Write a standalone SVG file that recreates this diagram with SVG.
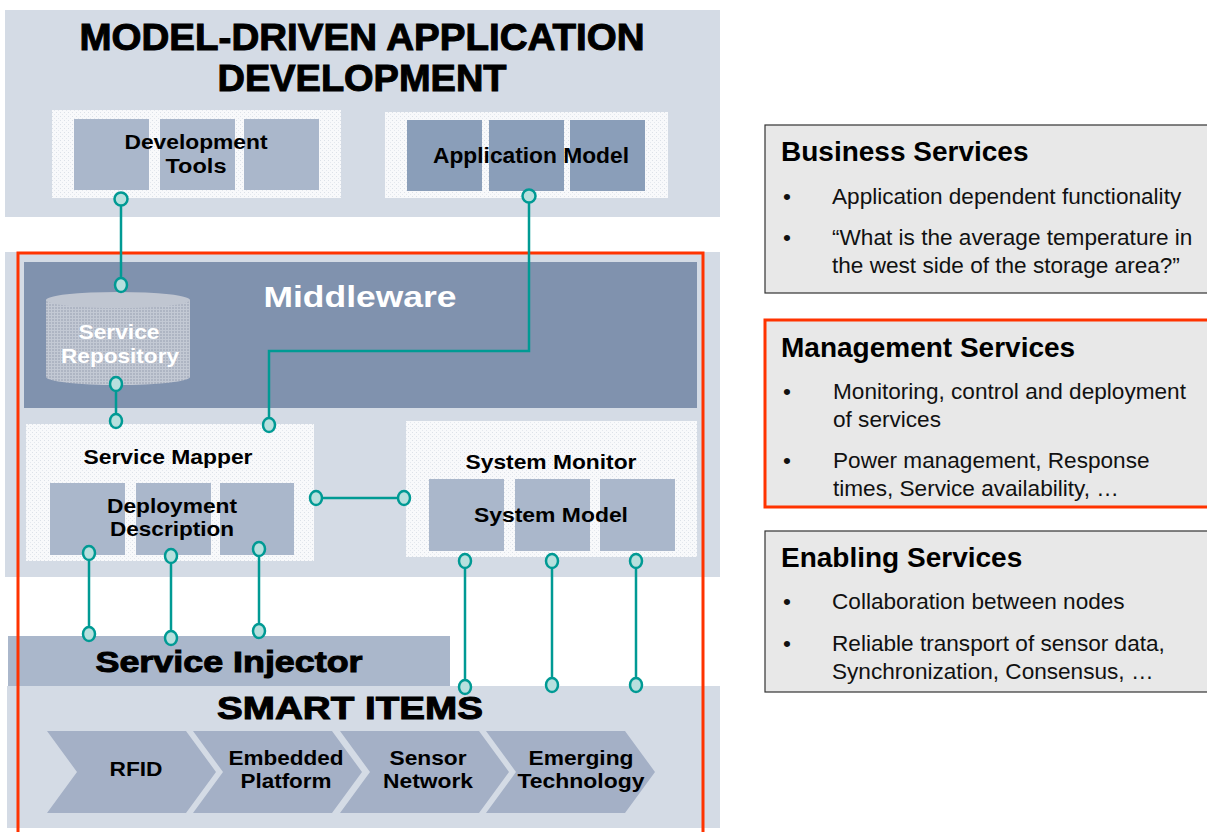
<svg xmlns="http://www.w3.org/2000/svg" width="1207" height="832" viewBox="0 0 1207 832">
<style>
.panel{fill:#d4dbe5}
.white{fill:url(#dots)}
.sq{fill:#aab7cb}
.sqd{fill:#8a9eb9}
.lbl{font-family:"Liberation Sans",Arial,sans-serif;font-weight:bold;fill:#000;text-anchor:middle}
.big{font-family:"Liberation Sans",Arial,sans-serif;font-weight:bold;fill:#000;text-anchor:middle;stroke:#000;stroke-width:1}
.wht{font-family:"Liberation Sans",Arial,sans-serif;font-weight:bold;fill:#fff;text-anchor:middle}
.con{stroke:#009a94;stroke-width:2.5;fill:none}
.pin{fill:#b8e0de;stroke:#009a94;stroke-width:2.5}
.chev{fill:#a4b0c6}
.box{fill:#e8e8e8;stroke:#333;stroke-width:1.2}
.ttl{font-family:"Liberation Sans",Arial,sans-serif;font-weight:bold;font-size:28px;fill:#000}
.txt{font-family:"Liberation Sans",Arial,sans-serif;font-size:22.6px;fill:#111}
</style>
<defs>
<pattern id="dots" width="4" height="4" patternUnits="userSpaceOnUse">
<rect width="4" height="4" fill="#f8f9fb"/><rect width="1" height="1" fill="#dce1e8"/><rect x="2" y="2" width="1" height="1" fill="#e4e8ee"/>
</pattern>
<pattern id="mesh" width="3" height="3" patternUnits="userSpaceOnUse">
<rect width="3" height="3" fill="#aeb5c3"/><rect width="1" height="3" fill="#c3c9d4"/><rect width="3" height="1" fill="#c3c9d4"/>
</pattern>
</defs>

<g id="mdad">
<rect class="panel" x="5" y="10" width="715" height="207"/>
<text class="big" x="362" y="50" font-size="37" stroke-width="1.3" textLength="565" lengthAdjust="spacingAndGlyphs">MODEL-DRIVEN APPLICATION</text>
<text class="big" x="362" y="91" font-size="37" stroke-width="1.3" textLength="289" lengthAdjust="spacingAndGlyphs">DEVELOPMENT</text>
</g>

<g id="devtools">
<rect class="white" x="52" y="110" width="289" height="88"/>
<rect class="sq" x="74" y="119" width="75" height="71"/>
<rect class="sq" x="160" y="119" width="75" height="71"/>
<rect class="sq" x="244" y="119" width="75" height="71"/>
<text class="lbl" x="196" y="149" font-size="20" textLength="143" lengthAdjust="spacingAndGlyphs">Development</text>
<text class="lbl" x="196" y="173" font-size="20" textLength="61" lengthAdjust="spacingAndGlyphs">Tools</text>
</g>

<g id="appmodel">
<rect class="white" x="385" y="112" width="283" height="86"/>
<rect class="sqd" x="407" y="120" width="75" height="71"/>
<rect class="sqd" x="489" y="120" width="75" height="71"/>
<rect class="sqd" x="570" y="120" width="75" height="71"/>
<text class="lbl" x="531" y="163" font-size="22" textLength="196" lengthAdjust="spacingAndGlyphs">Application Model</text>
</g>

<g id="midpanel">
<rect class="panel" x="5" y="252" width="715" height="325"/>
</g>

<g id="middleware">
<rect x="24" y="262" width="673" height="146" fill="#8092ae"/>
<text class="wht" x="360" y="307" font-size="30" textLength="193" lengthAdjust="spacingAndGlyphs">Middleware</text>
</g>

<g id="repository">
<path d="M46,300 L46,377 A72,8 0 0 0 190,377 L190,300 Z" fill="url(#mesh)"/>
<ellipse cx="118" cy="300" rx="72" ry="8" fill="#c0c6d1"/>
<text class="wht" x="119" y="339" font-size="21" textLength="81" lengthAdjust="spacingAndGlyphs">Service</text>
<text class="wht" x="120" y="363" font-size="21" textLength="118" lengthAdjust="spacingAndGlyphs">Repository</text>
</g>

<g id="servicemapper">
<rect class="white" x="26" y="424" width="288" height="137"/>
<text class="lbl" x="168" y="464" font-size="21" textLength="169" lengthAdjust="spacingAndGlyphs">Service Mapper</text>
<rect class="sq" x="50" y="483" width="75" height="72"/>
<rect class="sq" x="136" y="483" width="75" height="72"/>
<rect class="sq" x="220" y="483" width="74" height="72"/>
<text class="lbl" x="172" y="513" font-size="20" textLength="130" lengthAdjust="spacingAndGlyphs">Deployment</text>
<text class="lbl" x="172" y="536" font-size="20" textLength="124" lengthAdjust="spacingAndGlyphs">Description</text>
</g>

<g id="systemmonitor">
<rect class="white" x="406" y="421" width="291" height="136"/>
<text class="lbl" x="551" y="469" font-size="21" textLength="171" lengthAdjust="spacingAndGlyphs">System Monitor</text>
<rect class="sq" x="429" y="479" width="75" height="72"/>
<rect class="sq" x="515" y="479" width="75" height="72"/>
<rect class="sq" x="600" y="479" width="75" height="72"/>
<text class="lbl" x="551" y="522" font-size="21" textLength="154" lengthAdjust="spacingAndGlyphs">System Model</text>
</g>

<g id="serviceinjector">
<rect class="sq" x="8" y="636" width="442" height="50"/>
<text class="big" x="229" y="672" font-size="30" stroke-width="0.8" textLength="267" lengthAdjust="spacingAndGlyphs">Service Injector</text>
</g>

<g id="smartitems">
<rect class="panel" x="7" y="686" width="713" height="142"/>
<text class="big" x="350" y="719" font-size="32" stroke-width="1" textLength="266" lengthAdjust="spacingAndGlyphs">SMART ITEMS</text>
</g>

<g id="rfid">
<polygon class="chev" points="47,731 186,731 216,772 186,813 47,813 77,772"/>
<text class="lbl" x="136" y="776" font-size="21" textLength="53" lengthAdjust="spacingAndGlyphs">RFID</text>
</g>
<g id="embedded">
<polygon class="chev" points="193,731 332,731 362,772 332,813 193,813 223,772"/>
<text class="lbl" x="286" y="765" font-size="20" textLength="115" lengthAdjust="spacingAndGlyphs">Embedded</text>
<text class="lbl" x="286" y="788" font-size="20" textLength="91" lengthAdjust="spacingAndGlyphs">Platform</text>
</g>
<g id="sensornet">
<polygon class="chev" points="340,731 479,731 509,772 479,813 340,813 370,772"/>
<text class="lbl" x="428" y="765" font-size="20" textLength="77" lengthAdjust="spacingAndGlyphs">Sensor</text>
<text class="lbl" x="428" y="788" font-size="20" textLength="90" lengthAdjust="spacingAndGlyphs">Network</text>
</g>
<g id="emerging">
<polygon class="chev" points="486,731 625,731 655,772 625,813 486,813 516,772"/>
<text class="lbl" x="581" y="765" font-size="20" textLength="105" lengthAdjust="spacingAndGlyphs">Emerging</text>
<text class="lbl" x="581" y="788" font-size="20" textLength="127" lengthAdjust="spacingAndGlyphs">Technology</text>
</g>

<g id="redframe">
<rect x="18" y="253" width="685" height="590" fill="none" stroke="#ff3300" stroke-width="3"/>
</g>

<g id="connectors">
<path class="con" d="M121,206 V278"/>
<path class="con" d="M529,203 V351 H269 V418"/>
<path class="con" d="M116,391 V414"/>
<path class="con" d="M322,498 H398"/>
<path class="con" d="M89,560 V627"/>
<path class="con" d="M171,563 V631"/>
<path class="con" d="M259,556 V624"/>
<path class="con" d="M465,568 V680"/>
<path class="con" d="M552,568 V678"/>
<path class="con" d="M636,568 V678"/>
<ellipse class="pin" cx="121" cy="199" rx="6.5" ry="6.5"/>
<ellipse class="pin" cx="529" cy="196" rx="6.5" ry="6.5"/>
<ellipse class="pin" cx="121" cy="285" rx="6" ry="7"/>
<ellipse class="pin" cx="116" cy="384" rx="6" ry="7"/>
<ellipse class="pin" cx="116" cy="421" rx="6" ry="7"/>
<ellipse class="pin" cx="269" cy="425" rx="6" ry="7"/>
<ellipse class="pin" cx="316" cy="498" rx="6" ry="7"/>
<ellipse class="pin" cx="404" cy="498" rx="6" ry="7"/>
<ellipse class="pin" cx="89" cy="553" rx="6" ry="7"/>
<ellipse class="pin" cx="171" cy="556" rx="6" ry="7"/>
<ellipse class="pin" cx="259" cy="549" rx="6" ry="7"/>
<ellipse class="pin" cx="89" cy="634" rx="6" ry="7"/>
<ellipse class="pin" cx="171" cy="638" rx="6" ry="7"/>
<ellipse class="pin" cx="259" cy="631" rx="6" ry="7"/>
<ellipse class="pin" cx="465" cy="561" rx="6" ry="7"/>
<ellipse class="pin" cx="552" cy="561" rx="6" ry="7"/>
<ellipse class="pin" cx="636" cy="561" rx="6" ry="7"/>
<ellipse class="pin" cx="465" cy="687" rx="6" ry="7"/>
<ellipse class="pin" cx="552" cy="685" rx="6" ry="7"/>
<ellipse class="pin" cx="636" cy="685" rx="6" ry="7"/>
</g>

<g id="business">
<rect class="box" x="765" y="125" width="460" height="168"/>
<text class="ttl" x="781" y="161">Business Services</text>
<text class="txt" x="783" y="204">•</text>
<text class="txt" x="832" y="204">Application dependent functionality</text>
<text class="txt" x="783" y="245">•</text>
<text class="txt" x="832" y="245">“What is the average temperature in</text>
<text class="txt" x="832" y="273">the west side of the storage area?”</text>
</g>

<g id="management">
<rect x="765" y="320" width="460" height="187" fill="#e8e8e8" stroke="#ff3300" stroke-width="3"/>
<text class="ttl" x="781" y="357">Management Services</text>
<text class="txt" x="783" y="399">•</text>
<text class="txt" x="833" y="399">Monitoring, control and deployment</text>
<text class="txt" x="833" y="427">of services</text>
<text class="txt" x="783" y="468">•</text>
<text class="txt" x="833" y="468">Power management, Response</text>
<text class="txt" x="833" y="496">times, Service availability, …</text>
</g>

<g id="enabling">
<rect class="box" x="765" y="531" width="460" height="161"/>
<text class="ttl" x="781" y="567">Enabling Services</text>
<text class="txt" x="783" y="609">•</text>
<text class="txt" x="832" y="609">Collaboration between nodes</text>
<text class="txt" x="783" y="651">•</text>
<text class="txt" x="832" y="651">Reliable transport of sensor data,</text>
<text class="txt" x="832" y="679">Synchronization, Consensus, …</text>
</g>
</svg>
